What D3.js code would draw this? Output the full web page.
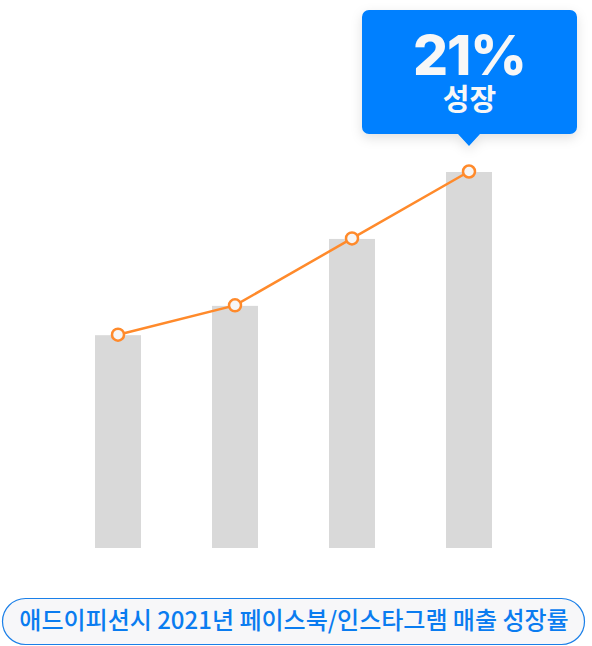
<!DOCTYPE html>
<html><head><meta charset="utf-8">
<script src="https://cdn.jsdelivr.net/npm/d3@7"></script>
<style>html,body{margin:0;padding:0;background:#fff;}</style>
</head><body>
<svg id="chart" width="592" height="646"></svg>
<script>
const categories = ["1분기", "2분기", "3분기", "4분기"];
const values = [56.6, 64.4, 82.2, 100];
const calloutValue = "21%";
const calloutLabel = "성장";
const title = "애드이피션시 2021년 페이스북/인스타그램 매출 성장률";

const svg = d3.select("#chart");
const font = "'Noto Sans CJK KR', 'Noto Sans', sans-serif";

const x = d3.scaleBand().domain(categories).range([59.5, 527.5]).paddingInner(0.607).paddingOuter(0.3035);
const y = d3.scaleLinear().domain([0, 100]).range([548, 172]);

const defs = svg.append("defs");
const f = defs.append("filter").attr("id", "sh").attr("x", "-20%").attr("y", "-20%").attr("width", "140%").attr("height", "150%");
f.append("feDropShadow").attr("dx", 0).attr("dy", 4).attr("stdDeviation", 6).attr("flood-color", "#000").attr("flood-opacity", 0.12);

svg.append("g").selectAll("rect").data(values).join("rect")
  .attr("x", (d, i) => x(categories[i]))
  .attr("width", x.bandwidth())
  .attr("y", d => y(d))
  .attr("height", d => y(0) - y(d))
  .attr("fill", "#d9d9d9");

const cx = (i) => x(categories[i]) + x.bandwidth() / 2;
const line = d3.line().x((d, i) => cx(i)).y(d => y(d) - 0.5);
svg.append("path").datum(values).attr("d", line)
  .attr("fill", "none").attr("stroke", "#ff8a2b").attr("stroke-width", 2.5);
svg.append("g").selectAll("circle").data(values).join("circle")
  .attr("cx", (d, i) => cx(i)).attr("cy", d => y(d) - 0.5).attr("r", 6)
  .attr("fill", "#f6f6f6").attr("stroke", "#ff8a2b").attr("stroke-width", 2.5);

// callout
const tipX = cx(3), tipY = y(values[3]) - 26;
const bx0 = 362, bx1 = 577, by0 = 10, by1 = 134;
const r = 7;
const p = d3.path();
p.moveTo(bx0 + r, by0);
p.lineTo(bx1 - r, by0); p.arcTo(bx1, by0, bx1, by0 + r, r);
p.lineTo(bx1, by1 - r); p.arcTo(bx1, by1, bx1 - r, by1, r);
p.lineTo(tipX + 11, by1); p.lineTo(tipX, tipY); p.lineTo(tipX - 11, by1);
p.lineTo(bx0 + r, by1); p.arcTo(bx0, by1, bx0, by1 - r, r);
p.lineTo(bx0, by0 + r); p.arcTo(bx0, by0, bx0 + r, by0, r);
p.closePath();
svg.append("path").attr("d", p.toString()).attr("fill", "#0080ff").attr("filter", "url(#sh)");
svg.append("text").attr("x", (bx0 + bx1) / 2).attr("y", 75).attr("text-anchor", "middle")
  .attr("font-family", "Inter, 'Noto Sans', sans-serif").attr("font-weight", 800).attr("font-size", 55)
  .attr("letter-spacing", "-1").attr("fill", "#f7f7f7").text(calloutValue);
svg.append("text").attr("x", (bx0 + bx1) / 2).attr("y", 110).attr("text-anchor", "middle")
  .attr("font-family", font).attr("font-weight", 700).attr("font-size", 29)
  .attr("fill", "#f7f7f7").text(calloutLabel);

// bottom label
svg.append("rect").attr("x", 2.5).attr("y", 598.5).attr("width", 582).attr("height", 46).attr("rx", 23)
  .attr("fill", "#f7f7f9").attr("stroke", "#1a7fe8").attr("stroke-width", 1.2);
svg.append("text").attr("x", 294).attr("y", 629).attr("text-anchor", "middle")
  .attr("font-family", font).attr("font-weight", 500).attr("font-size", 24)
  .attr("fill", "#0a7cf0").text(title);
</script>
</body></html>
